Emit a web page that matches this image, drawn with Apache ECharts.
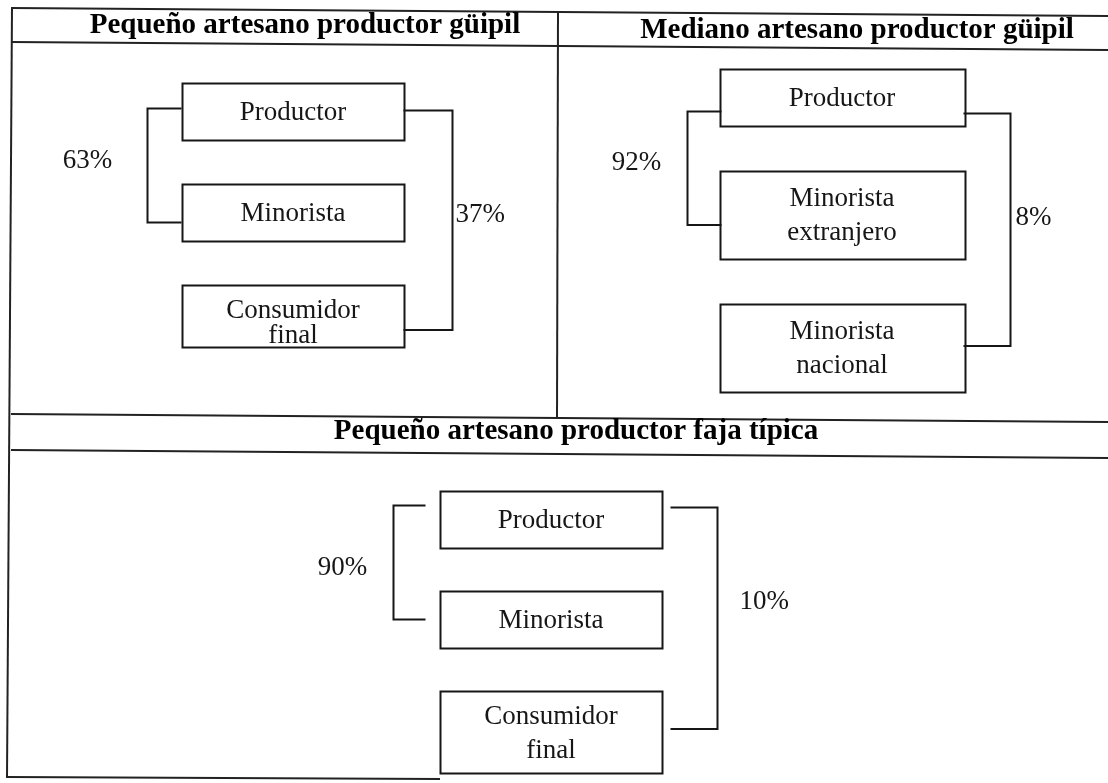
<!DOCTYPE html>
<html>
<head>
<meta charset="utf-8">
<script src="https://cdn.jsdelivr.net/npm/echarts@6/dist/echarts.min.js"></script>
<style>
  html, body { margin: 0; padding: 0; background: #fff; }
  #main { width: 1108px; height: 783px; }
</style>
</head>
<body>
<div id="main"></div>
<script>
// datos: canales de comercializacion
const panelTitles = [
  "Pequeño artesano productor güipil",
  "Mediano artesano productor güipil",
  "Pequeño artesano productor faja típica"
];
const chainA = ["Productor", "Minorista", "Consumidor\nfinal"];
const chainB = ["Productor", "Minorista\nextranjero", "Minorista\nnacional"];
const chainC = ["Productor", "Minorista", "Consumidor\nfinal"];
const viaMinorista = [63, 92, 90]; // % productor -> minorista (corchete izq)
const directo = [37, 8, 10];       // % productor -> ultimo eslabon (corchete der)

const chains = [chainA, chainB, chainC];

// estilos / layout por panel (px dentro de cada grid)
const FONT = '"Liberation Serif", "Times New Roman", serif';
const INK = "#161616";
const panelStyle = [
  {
    grid: { left: 11, top: 44, width: 547, height: 373 },
    cx: 282, boxW: 222, firstTop: 39, gap: 44, h1: 57, h2: 62, lineH: 25, textDy2: 7,
    left: { x: 136, tick: 34, dyTop: -3, dyBot: 10, labelDx: 60, labelDy: -5 },
    right: { x: 441, tick: 49, dyTop: -1, dyBot: 14, labelDx: 3, labelDy: -5 }
  },
  {
    grid: { left: 558, top: 44, width: 550, height: 373 },
    cx: 284, boxW: 245, firstTop: 25, gap: 45, h1: 57, h2: 88, lineH: 34, textDy2: 1,
    left: { x: 129, tick: 34, dyTop: 14, dyBot: 10, labelDx: 51, labelDy: -5 },
    right: { x: 452, tick: 47, dyTop: 16, dyBot: -2, labelDx: 5, labelDy: -12 }
  },
  {
    grid: { left: 11, top: 452, width: 1097, height: 328 },
    cx: 540, boxW: 222, firstTop: 39, gap: 43, h1: 57, h2: 82, lineH: 34, textDy2: 2,
    left: { x: 382, tick: 32, dyTop: -14, dyBot: 0, labelDx: 51, labelDy: 5 },
    right: { x: 706, tick: 47, dyTop: -12, dyBot: -3, labelDx: 22, labelDy: -16 }
  }
];

function layoutChain(labels, st) {
  let y = st.firstTop;
  return labels.map(function (name) {
    const lines = name.split("\n").length;
    const h = lines > 1 ? st.h2 : st.h1;
    const item = [st.cx, y, h, name];
    y += h + st.gap;
    return item;
  });
}

const grids = [], xAxes = [], yAxes = [], series = [];

chains.forEach(function (labels, p) {
  const st = panelStyle[p];
  grids.push(st.grid);
  xAxes.push({ type: "value", gridIndex: p, min: 0, max: st.grid.width, show: false });
  yAxes.push({ type: "value", gridIndex: p, min: 0, max: st.grid.height, inverse: true, show: false });

  const nodes = layoutChain(labels, st);
  const mid = function (n) { return n[1] + n[2] / 2; };

  // corchetes: izq Productor -> Minorista, der Productor -> ultimo
  const brackets = [
    [0, st.left.x, mid(nodes[0]) + st.left.dyTop, mid(nodes[1]) + st.left.dyBot, viaMinorista[p]],
    [1, st.right.x, mid(nodes[0]) + st.right.dyTop, mid(nodes[2]) + st.right.dyBot, directo[p]]
  ];

  series.push({
    type: "custom",
    name: panelTitles[p],
    xAxisIndex: p, yAxisIndex: p,
    silent: true,
    data: nodes,
    renderItem: function (params, api) {
      const top = api.coord([api.value(0), api.value(1)]);
      const bot = api.coord([api.value(0), api.value(1) + api.value(2)]);
      const w = api.size([st.boxW, 0])[0];
      const name = nodes[params.dataIndex][3];
      const dy = name.indexOf("\n") >= 0 ? st.textDy2 : 1;
      return {
        type: "group",
        children: [
          {
            type: "rect",
            shape: { x: Math.round(top[0] - w / 2) + 0.5, y: Math.round(top[1]) + 0.5, width: Math.round(w), height: Math.round(bot[1] - top[1]) },
            style: { fill: "#fff", stroke: INK, lineWidth: 2 }
          },
          {
            type: "text",
            style: {
              text: name, x: top[0], y: (top[1] + bot[1]) / 2 + dy,
              align: "center", verticalAlign: "middle",
              font: "27px " + FONT, lineHeight: st.lineH, fill: INK
            }
          }
        ]
      };
    }
  });

  series.push({
    type: "custom",
    name: panelTitles[p] + " %",
    xAxisIndex: p, yAxisIndex: p,
    silent: true,
    data: brackets,
    renderItem: function (params, api) {
      const side = api.value(0);
      const s = side === 0 ? st.left : st.right;
      const a = api.coord([api.value(1), api.value(2)]);
      const b = api.coord([api.value(1), api.value(3)]);
      const dir = side === 0 ? 1 : -1;
      const t = api.size([s.tick, 0])[0] * dir;
      const x = Math.round(a[0]) + 0.5;
      const m = (a[1] + b[1]) / 2 + s.labelDy;
      return {
        type: "group",
        children: [
          {
            type: "polyline",
            shape: { points: [[x + t, a[1]], [x, a[1]], [x, b[1]], [x + t, b[1]]] },
            style: { fill: "none", stroke: INK, lineWidth: 2 }
          },
          {
            type: "text",
            style: {
              text: api.value(4) + "%",
              x: side === 0 ? x - s.labelDx : x + s.labelDx, y: m,
              align: side === 0 ? "center" : "left", verticalAlign: "middle",
              font: "27px " + FONT, fill: INK
            }
          }
        ]
      };
    }
  });
});

// marco de la tabla (escaneo ligeramente girado)
function line(x1, y1, x2, y2) {
  return { type: "line", silent: true, shape: { x1: x1, y1: y1, x2: x2, y2: y2 }, style: { stroke: "#222", lineWidth: 2 } };
}
function title(text, x, y) {
  return {
    type: "text", silent: true, x: x, y: y,
    style: { text: text, font: "bold 29px " + FONT, fill: "#000", align: "center", verticalAlign: "middle", textAlign: "center", textVerticalAlign: "middle" }
  };
}

const chart = echarts.init(document.getElementById("main"), null, { renderer: "canvas" });
chart.setOption({
  animation: false,
  backgroundColor: "#fff",
  grid: grids,
  xAxis: xAxes,
  yAxis: yAxes,
  series: series,
  graphic: [
    line(11, 8, 1108, 16),
    line(11, 42, 1108, 50),
    line(11, 414, 1108, 422),
    line(11, 450, 1108, 458),
    line(7, 777, 440, 779),
    line(12, 7, 7, 778),
    line(558, 12, 557, 418),
    title(panelTitles[0], 305, 26),
    title(panelTitles[1], 857, 31),
    title(panelTitles[2], 576, 432)
  ]
});
</script>
</body>
</html>
